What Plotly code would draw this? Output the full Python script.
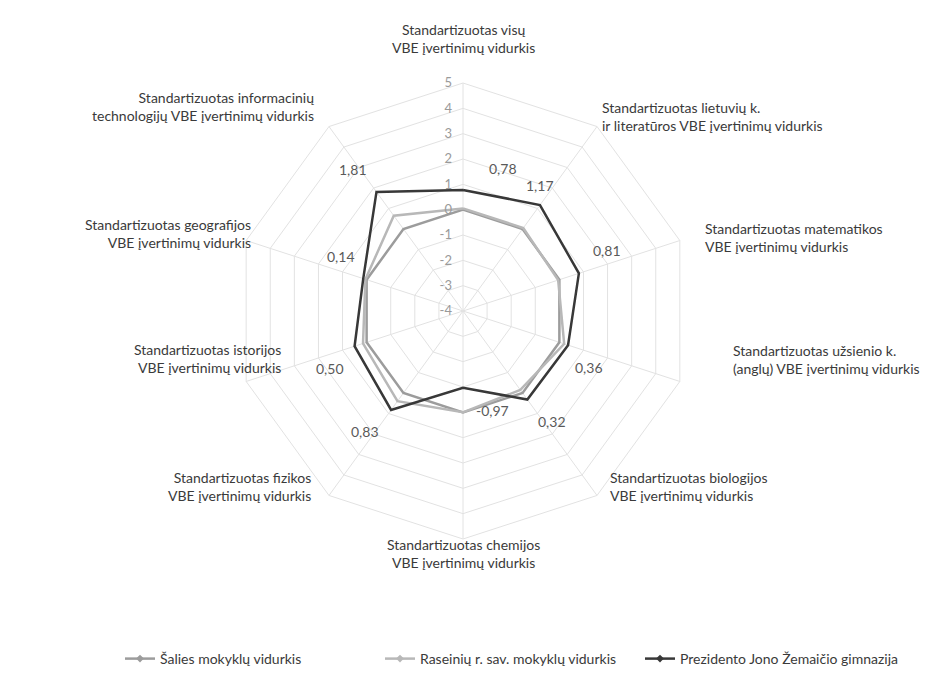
import math
import plotly.graph_objects as go

categories = [
    "visų", "lietuvių", "matematikos", "užsienio", "biologijos",
    "chemijos", "fizikos", "istorijos", "geografijos", "informacinių",
]
axis_titles = [
    "Standartizuotas visų<br>VBE įvertinimų vidurkis",
    "Standartizuotas lietuvių k.<br>ir literatūros VBE įvertinimų vidurkis",
    "Standartizuotas matematikos<br>VBE įvertinimų vidurkis",
    "Standartizuotas užsienio k.<br>(anglų) VBE įvertinimų vidurkis",
    "Standartizuotas biologijos<br>VBE įvertinimų vidurkis",
    "Standartizuotas chemijos<br>VBE įvertinimų vidurkis",
    "Standartizuotas fizikos<br>VBE įvertinimų vidurkis",
    "Standartizuotas istorijos<br>VBE įvertinimų vidurkis",
    "Standartizuotas geografijos<br>VBE įvertinimų vidurkis",
    "Standartizuotas informacinių<br>technologijų VBE įvertinimų vidurkis",
]
salies = [0, 0, 0, 0, 0, 0, 0, 0, 0, 0]
raseiniu = [0.05, 0.05, -0.05, 0.2, -0.15, 0.0, 0.4, 0.15, 0.05, 0.65]
gimnazija = [0.78, 1.17, 0.81, 0.36, 0.32, -0.97, 0.83, 0.50, 0.14, 1.81]
radial_ticks = [-4, -3, -2, -1, 0, 1, 2, 3, 4, 5]
radial_ticktext = ["-4", "-3", "-2", "-1", "0", "1", "2", "3", "4", "5"]

series_names = [
    "Šalies mokyklų vidurkis",
    "Raseinių r. sav. mokyklų vidurkis",
    "Prezidento Jono Žemaičio gimnazija",
]

FONT = "Lato, Open Sans, sans-serif"
TXT = "#3a3a3a"
R_MIN, R_MAX = -4, 5
W, H = 928, 688
CX, CY, RAD = 455, 303, 228  # centre / outer radius of the polar area (px)

def closed(v):
    return list(v) + [v[0]]

theta = closed(categories)

fig = go.Figure()
styles = [("#9c9c9c", 2.5), ("#b8b8b8", 2.5), ("#383838", 2.5)]
for name, vals, (col, w) in zip(series_names, [salies, raseiniu, gimnazija], styles):
    fig.add_trace(go.Scatterpolar(
        r=closed(vals), theta=theta, name=name, mode="lines+markers",
        line=dict(color=col, width=w),
        marker=dict(symbol="diamond", size=6, color=col),
    ))

# data labels (gimnazija) placed as annotations next to each point
label_shift = [(40, 21), (0, 20), (28, 23), (21, -22), (25, -22),
               (29, -23), (-26, -22), (-25, -22), (-22, 22), (-23, 22)]
n = len(categories)
for k, (v, (sx, sy)) in enumerate(zip(gimnazija, label_shift)):
    ang = math.radians(360 * k / n)
    rho = RAD * (v - R_MIN) / (R_MAX - R_MIN)
    px = CX + rho * math.sin(ang)
    py = CY - rho * math.cos(ang)
    fig.add_annotation(
        text=f"{v:.2f}".replace(".", ","), x=px / W, y=1 - py / H,
        xref="paper", yref="paper", xshift=sx, yshift=sy,
        xanchor="center", yanchor="middle", showarrow=False,
        font=dict(family=FONT, size=14, color="#5a5a5a"),
    )

# axis titles
title_pos = [
    (455, 31, "center"), (592, 108, "left"), (695, 229, "left"), (723, 351, "left"),
    (600, 478, "left"), (455, 545, "center"), (305, 478, "right"), (275, 350, "right"),
    (245, 225, "right"), (308, 98, "right"),
]
for t, (x, y, al) in zip(axis_titles, title_pos):
    fig.add_annotation(
        text=t, x=x / W, y=1 - y / H, xref="paper", yref="paper",
        xanchor=al, yanchor="middle", align=al, showarrow=False,
        font=dict(family=FONT, size=14, color=TXT),
    )

fig.update_layout(
    width=W, height=H,
    margin=dict(l=0, r=0, t=0, b=0),
    paper_bgcolor="white", plot_bgcolor="white",
    font=dict(family=FONT, size=13, color=TXT),
    polar=dict(
        domain=dict(x=[(CX - RAD) / W, (CX + RAD) / W],
                    y=[1 - (CY + RAD) / H, 1 - (CY - RAD) / H]),
        bgcolor="white",
        gridshape="linear",
        angularaxis=dict(
            direction="clockwise", rotation=90,
            showticklabels=False, ticks="",
            linecolor="#e2e2e2", gridcolor="#e2e2e2",
        ),
        radialaxis=dict(
            range=[R_MIN, R_MAX], tickvals=radial_ticks, ticktext=radial_ticktext,
            angle=90, tickangle=90, side="counterclockwise",
            showline=False, ticks="outside", ticklen=6, tickcolor="rgba(0,0,0,0)",
            gridcolor="#e2e2e2",
            tickfont=dict(family=FONT, size=13, color="#9a9a9a"),
        ),
    ),
    legend=dict(
        orientation="h", x=112 / W, xanchor="left", y=(H - 651) / H, yanchor="middle",
        font=dict(family=FONT, size=14, color=TXT),
        itemwidth=30, entrywidth=215,
    ),
)

fig.write_html("out.html")
